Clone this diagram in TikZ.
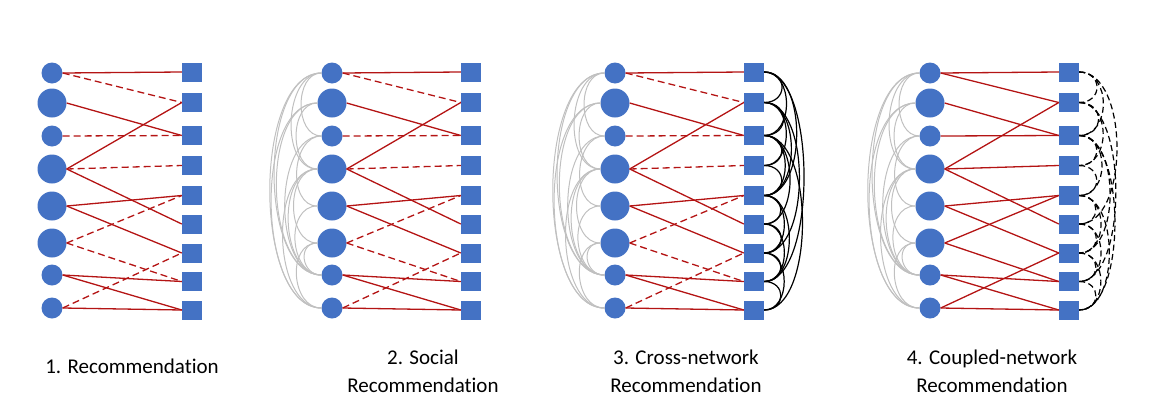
\documentclass[tikz,border=0pt]{standalone}
\usepackage{fontspec}
\setmainfont{Carlito}[Ligatures=NoCommon]
\definecolor{nodeblue}{RGB}{68,114,196}
\definecolor{linkred}{RGB}{180,20,20}
\definecolor{socialgray}{RGB}{192,192,192}
\tikzset{
    user/.style={circle, fill=nodeblue, inner sep=0, minimum size=21pt},
    bigUser/.style={user, minimum size=29pt},
    item/.style={rectangle, fill=nodeblue, inner sep=0, minimum width=20pt, minimum height=19pt},
    rating/.style={draw=linkred, line width=1.3pt},
    rdash/.style={dash pattern=on 7pt off 4pt},
    social/.style={draw=socialgray, line width=1pt},
    cross/.style={draw=black, line width=1.2pt},
    coupled/.style={cross, dash pattern=on 6pt off 3.5pt},
    caption/.style={font=\fontsize{21}{28}\selectfont, align=center}
}

\begin{document}
\begin{tikzpicture}[x=1pt, y=-1pt]
    \useasboundingbox (0,0) rectangle (1156,418);
    % users and items of the four panels
    \foreach \p/\ux/\ix in {1/52/192, 2/332/471, 3/615/754, 4/930/1069} {
        \foreach \u/\y/\s in {1/73/user, 2/103/bigUser, 3/136/user, 4/169/bigUser,
                              5/206/bigUser, 6/243/bigUser, 7/275/user, 8/308/user} {
            \node[\s] (p\p-u\u) at (\ux,\y) {};
        }
        \foreach \i/\y in {1/72, 2/102.5, 3/135.5, 4/165.5, 5/195.5, 6/224, 7/253, 8/281.5, 9/310} {
            \node[item] (p\p-i\i) at (\ix,\y) {};
        }
    }
    % user-item ratings
    \foreach \p in {1,2,3} {
        \foreach \u/\i/\d in {1/1/solid, 1/2/rdash, 2/3/solid, 3/3/rdash, 4/2/solid,
                              4/4/rdash, 4/6/solid, 5/5/solid, 5/7/solid, 6/5/rdash,
                              6/8/rdash, 7/8/solid, 7/9/solid, 8/7/rdash, 8/9/solid} {
            \draw[rating, \d] (p\p-u\u.east) -- (p\p-i\i.west);
        }
    }
    \foreach \u/\i in {1/1, 1/2, 2/3, 3/3, 4/2, 4/4, 4/6, 5/5, 5/7, 6/5, 6/8, 7/8, 7/9, 8/7, 8/9} {
        \draw[rating] (p4-u\u.east) -- (p4-i\i.west);
    }
    % social links between users
    \foreach \p in {2,3,4} {
        \foreach \a/\b/\l in {1/3/1.1, 1/4/1.0, 1/7/0.8, 1/8/0.75, 2/4/1.1, 2/7/0.85, 2/8/0.8,
                              3/5/1.1, 3/7/0.9, 4/6/1.1, 4/7/1.0, 4/8/0.9, 5/7/1.2, 6/7/1.6, 6/8/1.2} {
            \draw[social] (p\p-u\a.west) to[out=180, in=180, looseness=\l] (p\p-u\b.west);
        }
    }
    % item links
    \foreach \a/\b/\l in {1/2/2, 1/3/1.2, 1/5/0.9, 1/8/0.65, 2/3/2, 2/4/1.2, 2/5/1.0, 2/7/0.8,
                          3/4/2, 3/5/1.2, 3/6/1.0, 3/9/0.75, 4/5/2, 5/6/2, 5/7/1.2, 5/8/1.0,
                          6/7/2, 6/8/1.2, 7/8/2, 7/9/1.2, 8/9/2} {
        \draw[cross] (p3-i\a.east) to[out=0, in=0, looseness=\l] (p3-i\b.east);
    }
    \foreach \a/\b/\l in {1/2/2, 1/3/1.3, 1/6/0.85, 2/3/2, 2/4/1.3, 2/8/0.7, 3/4/2, 3/5/1.3,
                          3/7/0.9, 3/9/0.7, 4/5/2, 5/6/2, 5/7/1.3, 5/9/0.9, 6/7/2, 6/8/1.3,
                          7/8/2, 7/9/1.3, 8/9/2} {
        \draw[coupled] (p4-i\a.east) to[out=0, in=0, looseness=\l] (p4-i\b.east);
    }
    % captions
    \node[caption] (cap1) at (132,366) {1. Recommendation};
    \node[caption] (cap2) at (423,371) {2. Social\\Recommendation};
    \node[caption] (cap3) at (686,371) {3. Cross-network\\Recommendation};
    \node[caption] (cap4) at (992,371) {4. Coupled-network\\Recommendation};
\end{tikzpicture}
\end{document}
